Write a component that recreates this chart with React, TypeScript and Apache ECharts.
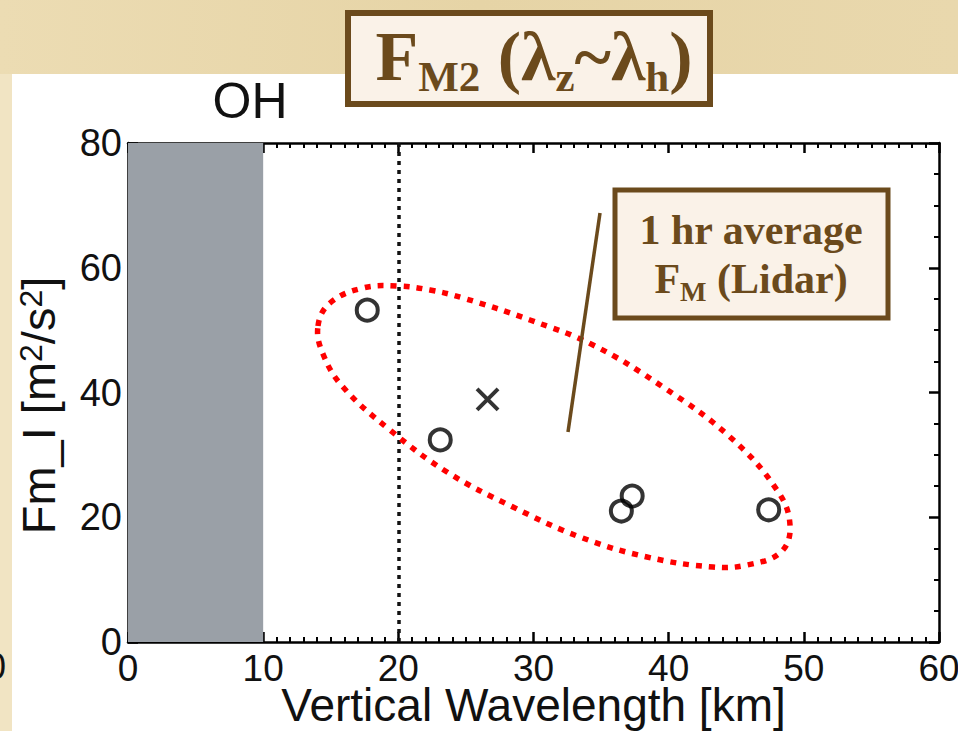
import React, { useEffect, useRef } from "react";
import * as echarts from "echarts";

// Data
const circleX = [17.7, 23.1, 36.5, 37.3, 47.4];
const circleY = [53.2, 32.4, 21.0, 23.4, 21.2];
const crossX = [26.6];
const crossY = [38.9];
const shadedRange = [0, 10];
const refLineX = 20;
const xTicks = { min: 0, max: 60, interval: 10 };
const yTicks = { min: 0, max: 80, interval: 20 };

const BROWN = "#6b4a1c";
const SANS = "'Liberation Sans', Arial, sans-serif";
const SERIF = "'Liberation Serif', 'Times New Roman', serif";

// hand-drawn annotation outline (pixel space)
const loopOutline = [
  [318, 326], [330, 303], [363, 288], [397, 286], [430, 290], [463, 298],
  [530, 320], [593, 345], [663, 387], [730, 437], [777, 490], [790, 525],
  [781, 552], [747, 565], [713, 567], [647, 557], [580, 537], [513, 507],
  [447, 472], [390, 430], [343, 387], [323, 354],
];

export default function App() {
  const ref = useRef<HTMLDivElement>(null);
  useEffect(() => {
    if (!ref.current) return;
    const chart = echarts.init(ref.current, null, { renderer: "svg" });
    const axisCommon = {
      type: "value" as const,
      axisLine: { show: true, onZero: false, lineStyle: { color: "#000", width: 2.5 } },
      axisTick: { show: true, inside: true, length: 10, lineStyle: { color: "#000", width: 2.5 } },
      splitLine: { show: false },
    };
    const option: any = {
      animation: false,
      backgroundColor: "#ffffff",
      grid: { left: 128, right: 19, top: 143, bottom: 89, containLabel: false, outerBoundsMode: "none" },
      xAxis: [
        {
          ...axisCommon,
          ...xTicks,
          position: "bottom",
          minorTick: { show: true, splitNumber: 10, length: 5, lineStyle: { color: "#000", width: 2 } },
          axisLabel: { fontSize: 37, color: "#111", margin: 8, fontFamily: SANS },
          name: "Vertical Wavelength [km]",
          nameLocation: "middle",
          nameGap: 40,
          nameMoveOverlap: false,
          nameTextStyle: { fontSize: 46, color: "#111", fontFamily: SANS },
        },
        {
          ...axisCommon,
          ...xTicks,
          position: "top",
          minorTick: { show: true, splitNumber: 10, length: 5, lineStyle: { color: "#000", width: 2 } },
          axisLabel: { show: false },
        },
      ],
      yAxis: [
        {
          ...axisCommon,
          ...yTicks,
          position: "left",
          minorTick: { show: true, splitNumber: 4, length: 5, lineStyle: { color: "#000", width: 2 } },
          axisLabel: { fontSize: 38, color: "#111", margin: 6, fontFamily: SANS },
          name: "Fm_I [m{sup|2}/s{sup|2}]",
          nameLocation: "middle",
          nameGap: 66,
          nameTextStyle: {
            fontSize: 47,
            color: "#111",
            fontFamily: SANS,
            padding: [0, 26, 0, 0],
            rich: {
              sup: { fontSize: 32, color: "#111", fontFamily: SANS, verticalAlign: "top", lineHeight: 44 },
            },
          },
        },
        {
          ...axisCommon,
          ...yTicks,
          position: "right",
          minorTick: { show: true, splitNumber: 4, length: 5, lineStyle: { color: "#000", width: 2 } },
          axisLabel: { show: false },
        },
      ],
      series: [
        {
          type: "scatter",
          name: "circles",
          z: 5,
          data: circleX.map((x, i) => [x, circleY[i]]),
          symbol: "circle",
          symbolSize: 21,
          itemStyle: { color: "transparent", borderColor: "#000", borderWidth: 4 },
          markArea: {
            silent: true,
            itemStyle: { color: "#9aa0a7" },
            data: [[{ xAxis: shadedRange[0] }, { xAxis: shadedRange[1] }]],
          },
          markLine: {
            silent: true,
            symbol: "none",
            label: { show: false },
            lineStyle: { color: "#111", type: [4, 5], width: 3.5 },
            data: [{ xAxis: refLineX }],
          },
        },
        {
          type: "scatter",
          name: "cross",
          z: 5,
          data: crossX.map((x, i) => [x, crossY[i]]),
          symbol: "path://M0,0L10,10M10,0L0,10",
          symbolSize: 21,
          itemStyle: { color: "transparent", borderColor: "#000", borderWidth: 4 },
        },
      ],
      graphic: [
        // parchment background (top band and left strip)
        {
          type: "rect",
          z: -10,
          silent: true,
          shape: { x: 0, y: 0, width: 958, height: 74 },
          style: {
            fill: new echarts.graphic.LinearGradient(0, 0, 1, 0, [
              { offset: 0, color: "#ecdcb3" },
              { offset: 0.5, color: "#e6d4a6" },
              { offset: 1, color: "#e9d8ad" },
            ]),
          },
        },
        {
          type: "rect",
          z: -10,
          silent: true,
          shape: { x: 0, y: 74, width: 12, height: 657 },
          style: { fill: "#f1e4c3" },
        },
        {
          type: "text",
          z: 10,
          left: -14,
          top: 648,
          style: { text: "0", fontSize: 36, fontFamily: SANS, fill: "#111" },
        },
        // OH label
        {
          type: "text",
          z: 10,
          x: 250,
          y: 101,
          style: {
            text: "OH",
            fontSize: 50,
            fontFamily: SANS,
            fill: "#111",
            align: "center",
            verticalAlign: "middle",
          },
        },
        // Title box
        {
          type: "rect",
          z: 20,
          shape: { x: 348, y: 13, width: 362, height: 91 },
          style: { fill: "#faf2e8", stroke: BROWN, lineWidth: 6 },
        },
        {
          type: "text",
          z: 21,
          x: 534,
          y: 56,
          style: {
            text: "{b|F}{s|M2}{b| (λ}{s|z}{b|~λ}{s|h}{b|)}",
            align: "center",
            verticalAlign: "middle",
            rich: {
              b: { fontSize: 70, lineHeight: 84, fontWeight: "bold", fontFamily: SERIF, fill: BROWN, color: BROWN },
              s: { fontSize: 43, lineHeight: 42, fontWeight: "bold", fontFamily: SERIF, fill: BROWN, color: BROWN, verticalAlign: "bottom" },
            },
          },
        },
        // Annotation box
        {
          type: "rect",
          z: 20,
          shape: { x: 615, y: 190, width: 273, height: 128 },
          style: { fill: "#faf2e8", stroke: BROWN, lineWidth: 5 },
        },
        {
          type: "text",
          z: 21,
          x: 751,
          y: 230,
          style: {
            text: "1 hr average",
            align: "center",
            verticalAlign: "middle",
            fontSize: 42,
            fontWeight: "bold",
            fontFamily: SERIF,
            fill: BROWN,
          },
        },
        {
          type: "text",
          z: 21,
          x: 751,
          y: 279,
          style: {
            text: "{b|F}{s|M}{b| (Lidar)}",
            align: "center",
            verticalAlign: "middle",
            rich: {
              b: { fontSize: 42, lineHeight: 52, fontWeight: "bold", fontFamily: SERIF, fill: BROWN, color: BROWN },
              s: { fontSize: 28, lineHeight: 28, fontWeight: "bold", fontFamily: SERIF, fill: BROWN, color: BROWN, verticalAlign: "bottom" },
            },
          },
        },
        {
          type: "line",
          z: 20,
          shape: { x1: 600, y1: 213, x2: 568, y2: 432 },
          style: { stroke: BROWN, lineWidth: 3.5 },
        },
        // Red dotted loop
        {
          type: "polygon",
          z: 15,
          shape: { points: loopOutline, smooth: 0.4 },
          style: { fill: "none", stroke: "#ff0000", lineWidth: 5.5, lineDash: [6, 7] },
        },
      ],
    };
    chart.setOption(option);
    return () => chart.dispose();
  }, []);
  return (
    <div
      ref={ref}
      style={{ position: "fixed", left: 0, top: 0, width: 958, height: 731 }}
    />
  );
}
